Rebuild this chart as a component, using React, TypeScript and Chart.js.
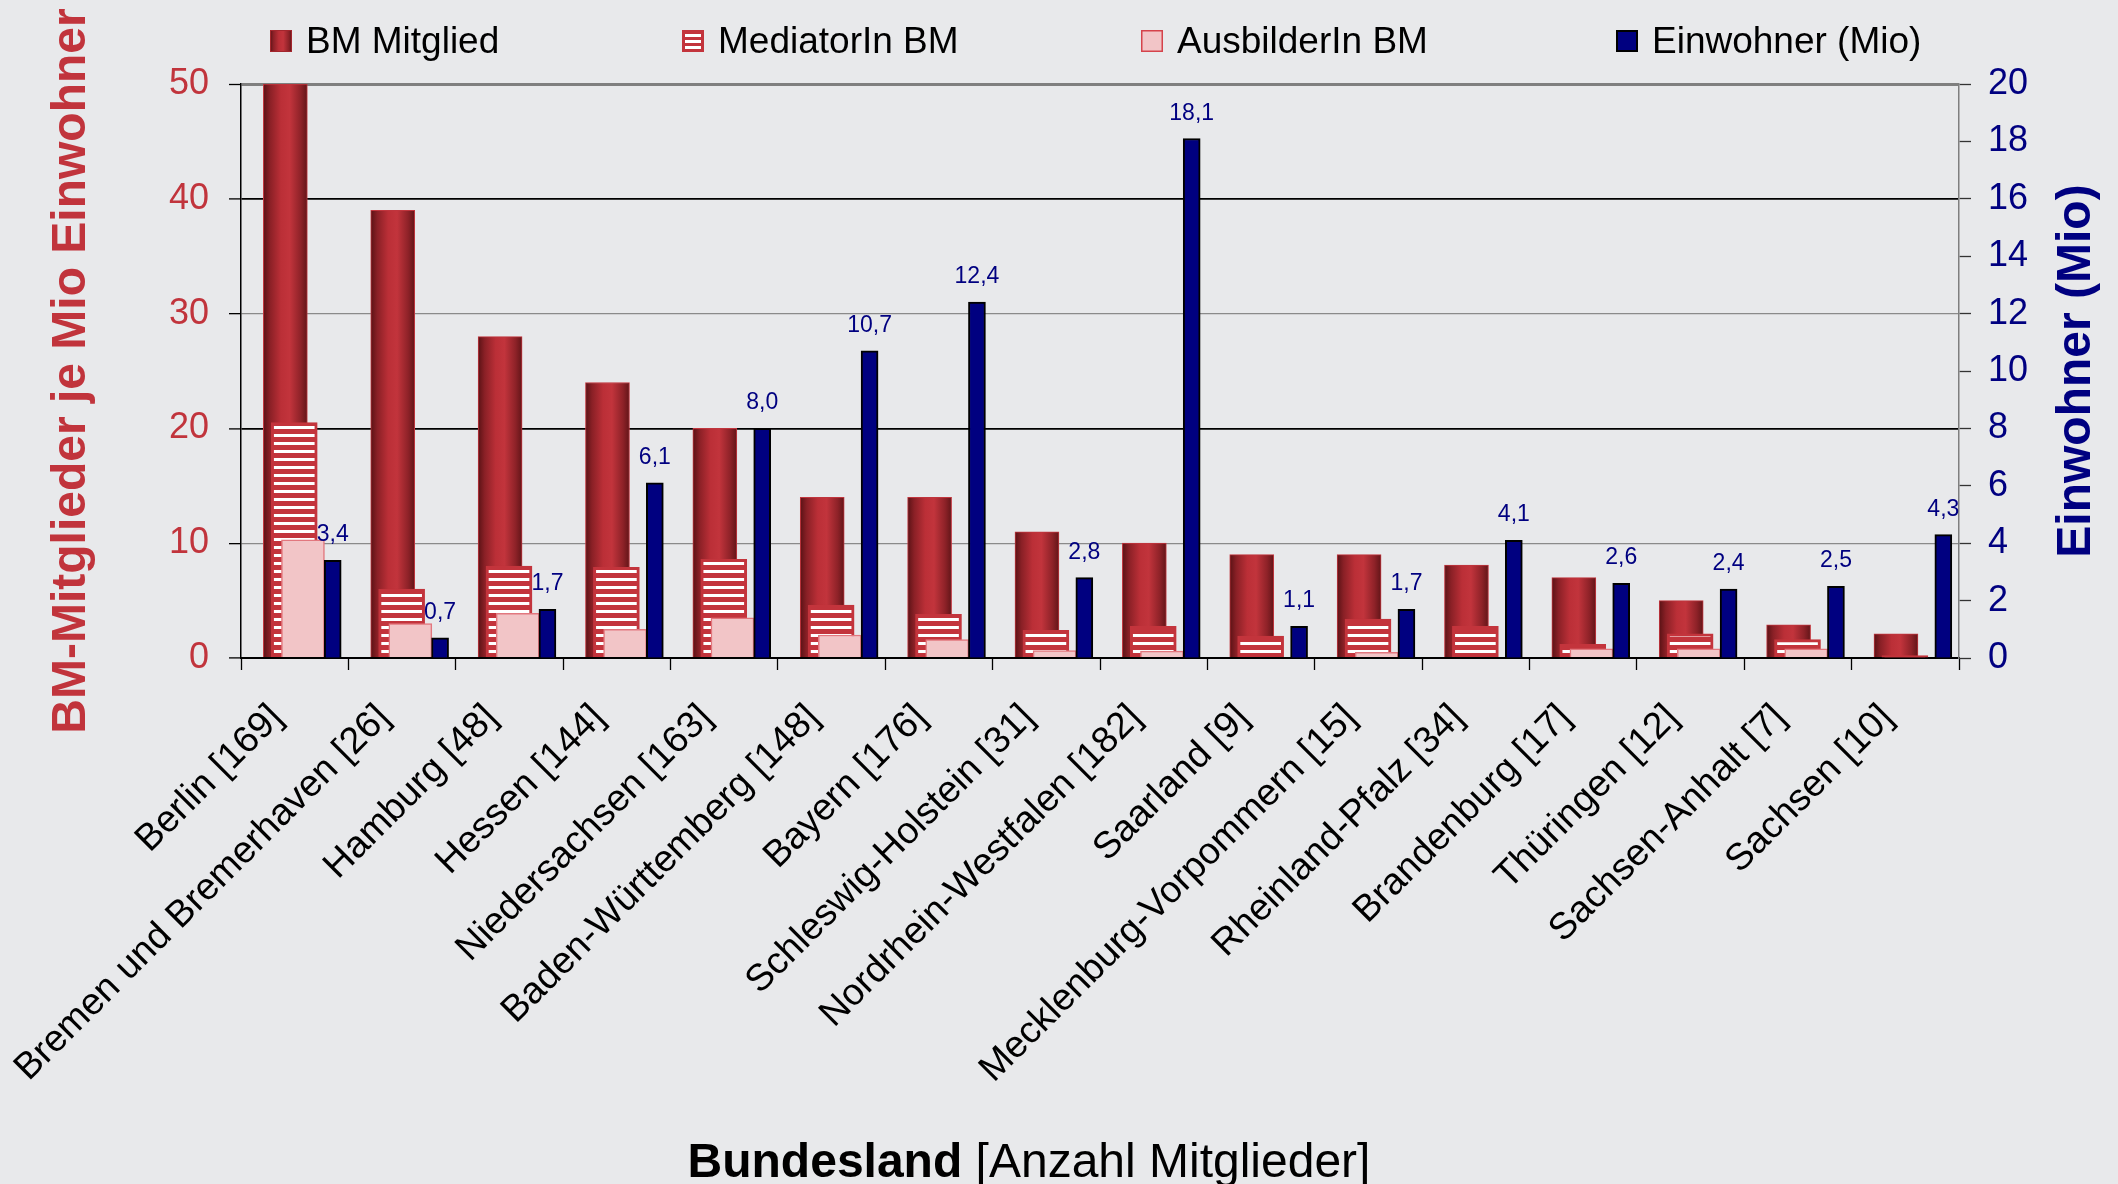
import React, { useEffect, useRef } from 'react';
import { Chart, registerables } from 'chart.js';

Chart.register(...registerables);

// ---------------- data ----------------
const categories = [
  'Berlin [169]',
  'Bremen und Bremerhaven [26]',
  'Hamburg [48]',
  'Hessen [144]',
  'Niedersachsen [163]',
  'Baden-Württemberg [148]',
  'Bayern [176]',
  'Schleswig-Holstein [31]',
  'Nordrhein-Westfalen [182]',
  'Saarland [9]',
  'Mecklenburg-Vorpommern [15]',
  'Rheinland-Pfalz [34]',
  'Brandenburg [17]',
  'Thüringen [12]',
  'Sachsen-Anhalt [7]',
  'Sachsen [10]',
];

const bmMitglied = [50, 39, 28, 24, 20, 14, 14, 11, 10, 9, 9, 8.1, 7, 5, 2.9, 2.1];
const mediatorIn = [20.5, 6, 8, 7.9, 8.6, 4.6, 3.8, 2.4, 2.75, 1.9, 3.4, 2.75, 1.2, 2.1, 1.6, 0.2];
const ausbilderIn = [10.3, 3, 3.9, 2.5, 3.5, 2, 1.6, 0.65, 0.6, 0, 0.5, 0, 0.8, 0.8, 0.8, 0];
const einwohner = [3.4, 0.7, 1.7, 6.1, 8.0, 10.7, 12.4, 2.8, 18.1, 1.1, 1.7, 4.1, 2.6, 2.4, 2.5, 4.3];

const seriesNames = ['BM Mitglied', 'MediatorIn BM', 'AusbilderIn BM', 'Einwohner (Mio)'];
const leftAxisTitle = 'BM-Mitglieder je Mio Einwohner';
const rightAxisTitle = 'Einwohner (Mio)';
const xTitleBold = 'Bundesland';
const xTitleRest = ' [Anzahl Mitglieder]';

const leftMax = 50;
const leftStep = 10;
const rightMax = 20;
const rightStep = 2;

// ---------------- layout / style ----------------
const W = 2118;
const H = 1184;
const FONT = '"Liberation Sans", Arial, Helvetica, sans-serif';
const BG = '#e8e9eb';
const RED = '#c1343c';
const NAVY = '#000080';

const AREA_TOP = 84;
const AREA_BOTTOM = 658;
const AREA_LEFT = 241;
const AREA_RIGHT = 1959;

// horizontal placement of each series inside its category (category units)
const SHIFT = { bm: -0.087, med: -0.004, aus: 0.077, ein: 0.354 };
const THICK = { bm: 44, med: 46, aus: 43, ein: 17 };

const toXY = (arr: number[], shift: number) => arr.map((v, i) => ({ x: i + shift, y: v }));
const fmt = (v: number) => v.toFixed(1).replace('.', ',');

function bmGradient(ctx: CanvasRenderingContext2D, x0: number, x1: number) {
  const g = ctx.createLinearGradient(x0, 0, x1, 0);
  g.addColorStop(0, '#5a1215');
  g.addColorStop(0.15, '#8a2026');
  g.addColorStop(0.4, '#bb2f37');
  g.addColorStop(0.6, '#c2343c');
  g.addColorStop(0.85, '#8e2228');
  g.addColorStop(1, '#621518');
  return g;
}

function stripePattern(ctx: CanvasRenderingContext2D) {
  const c = document.createElement('canvas');
  c.width = 8;
  c.height = 8;
  const g = c.getContext('2d') as CanvasRenderingContext2D;
  g.fillStyle = '#c3343c';
  g.fillRect(0, 0, 8, 8);
  g.fillStyle = '#ffffff';
  g.fillRect(0, 2, 8, 3);
  return ctx.createPattern(c, 'repeat') as CanvasPattern;
}

const decorPlugin = {
  id: 'decor',
  beforeDraw(chart: any) {
    const ctx = chart.ctx;
    ctx.save();
    ctx.fillStyle = BG;
    ctx.fillRect(0, 0, chart.width, chart.height);
    ctx.restore();
  },
  afterDatasetsDraw(chart: any) {
    const ctx: CanvasRenderingContext2D = chart.ctx;
    const area = chart.chartArea;
    const meta = chart.getDatasetMeta(3);
    ctx.save();
    ctx.beginPath();
    ctx.rect(area.left, 0, area.right - area.left, area.bottom);
    ctx.clip();
    ctx.font = `23px ${FONT}`;
    ctx.fillStyle = NAVY;
    ctx.textAlign = 'center';
    ctx.textBaseline = 'alphabetic';
    meta.data.forEach((el: any, i: number) => {
      ctx.fillText(fmt(einwohner[i]), el.x, el.y - 19);
    });
    ctx.restore();
  },
  afterDraw(chart: any) {
    const ctx: CanvasRenderingContext2D = chart.ctx;
    const area = chart.chartArea;
    const midY = (area.top + area.bottom) / 2;

    // left axis title
    ctx.save();
    ctx.translate(72, midY);
    ctx.rotate(-Math.PI / 2);
    ctx.font = `bold 48px ${FONT}`;
    ctx.fillStyle = RED;
    ctx.textAlign = 'center';
    ctx.textBaseline = 'middle';
    ctx.fillText(leftAxisTitle, 0, 0);
    ctx.restore();

    // right axis title
    ctx.save();
    ctx.translate(2077, midY);
    ctx.rotate(-Math.PI / 2);
    ctx.font = `bold 48px ${FONT}`;
    ctx.fillStyle = NAVY;
    ctx.textAlign = 'center';
    ctx.textBaseline = 'middle';
    ctx.fillText(rightAxisTitle, 0, 0);
    ctx.restore();

    // x axis title (mixed weights)
    ctx.save();
    ctx.fillStyle = '#000';
    ctx.textBaseline = 'alphabetic';
    ctx.textAlign = 'left';
    ctx.font = `bold 48px ${FONT}`;
    const bw = ctx.measureText(xTitleBold).width;
    ctx.font = `48px ${FONT}`;
    const rw = ctx.measureText(xTitleRest).width;
    const startX = 1029 - (bw + rw) / 2;
    ctx.font = `bold 48px ${FONT}`;
    ctx.fillText(xTitleBold, startX, 1177);
    ctx.font = `48px ${FONT}`;
    ctx.fillText(xTitleRest, startX + bw, 1177);
    ctx.restore();

    // legend
    const boxX = [270, 682, 1141, 1616];
    const by = 30;
    const bs = 22;
    ctx.save();
    boxX.forEach((x, k) => {
      if (k === 0) {
        ctx.fillStyle = bmGradient(ctx, x, x + bs);
        ctx.fillRect(x, by, bs, bs);
        ctx.strokeStyle = '#a3262d';
        ctx.lineWidth = 1;
        ctx.strokeRect(x + 0.5, by + 0.5, bs - 1, bs - 1);
      } else if (k === 1) {
        ctx.fillStyle = '#c3343c';
        ctx.fillRect(x, by, bs, bs);
        ctx.fillStyle = '#fff';
        ctx.fillRect(x + 3, by + 4, bs - 6, 3);
        ctx.fillRect(x + 3, by + 10, bs - 6, 3);
        ctx.fillRect(x + 3, by + 16, bs - 6, 3);
      } else if (k === 2) {
        ctx.fillStyle = '#f2c5c7';
        ctx.fillRect(x, by, bs, bs);
        ctx.strokeStyle = '#d5434b';
        ctx.lineWidth = 1.5;
        ctx.strokeRect(x + 0.75, by + 0.75, bs - 1.5, bs - 1.5);
      } else {
        ctx.fillStyle = NAVY;
        ctx.fillRect(x, by, bs, bs);
        ctx.strokeStyle = '#000';
        ctx.lineWidth = 2;
        ctx.strokeRect(x + 1, by + 1, bs - 2, bs - 2);
      }
      ctx.fillStyle = '#000';
      ctx.font = `37px ${FONT}`;
      ctx.textAlign = 'left';
      ctx.textBaseline = 'alphabetic';
      ctx.fillText(seriesNames[k], x + 36, 53);
    });
    ctx.restore();
  },
};

export default function App() {
  const ref = useRef<HTMLCanvasElement | null>(null);

  useEffect(() => {
    document.body.style.margin = '0';
    document.body.style.background = BG;
    document.body.style.overflow = 'hidden';
    const canvas = ref.current as HTMLCanvasElement;
    const ctx2d = canvas.getContext('2d') as CanvasRenderingContext2D;
    const stripes = stripePattern(ctx2d);

    const leftGridColor = (c: any) => {
      const v = c.tick ? c.tick.value : 0;
      if (v === leftMax) return '#7f7f7f';
      if (v === 0 || v === 20 || v === 40) return '#000000';
      return '#8a8a8a';
    };
    const leftGridWidth = (c: any) => {
      const v = c.tick ? c.tick.value : 0;
      if (v === leftMax) return 3;
      if (v === 0 || v === 20 || v === 40) return 1.8;
      return 1.3;
    };

    const chart = new Chart(canvas, {
      type: 'bar',
      data: {
        labels: categories,
        datasets: [
          {
            label: seriesNames[0],
            data: toXY(bmMitglied, SHIFT.bm) as any,
            xAxisID: 'xb',
            yAxisID: 'y',
            grouped: false,
            order: 4,
            barThickness: THICK.bm,
            backgroundColor: (c: any) => {
              const sc = c.chart.scales && c.chart.scales.xb;
              if (c.type !== 'data' || !sc) return '#b02a32';
              const cx = sc.getPixelForValue(c.dataIndex + SHIFT.bm);
              if (!isFinite(cx)) return '#b02a32';
              return bmGradient(c.chart.ctx, cx - THICK.bm / 2, cx + THICK.bm / 2);
            },
            borderColor: '#c0353d',
            borderWidth: 1,
          },
          {
            label: seriesNames[1],
            data: toXY(mediatorIn, SHIFT.med) as any,
            xAxisID: 'xb',
            yAxisID: 'y',
            grouped: false,
            order: 3,
            barThickness: THICK.med,
            backgroundColor: stripes,
            borderColor: '#c3343c',
            borderWidth: 3,
          },
          {
            label: seriesNames[2],
            data: toXY(ausbilderIn, SHIFT.aus) as any,
            xAxisID: 'xb',
            yAxisID: 'y',
            grouped: false,
            order: 2,
            barThickness: THICK.aus,
            backgroundColor: '#f2c5c7',
            borderColor: '#e2777e',
            borderWidth: 1.5,
          },
          {
            label: seriesNames[3],
            data: toXY(einwohner, SHIFT.ein) as any,
            xAxisID: 'xb',
            yAxisID: 'y2',
            grouped: false,
            order: 1,
            barThickness: THICK.ein,
            backgroundColor: NAVY,
            borderColor: '#000000',
            borderWidth: 2,
          },
        ],
      },
      options: {
        responsive: false,
        animation: false,
        devicePixelRatio: 1,
        layout: { padding: { top: AREA_TOP, left: 0, right: 0, bottom: 0 } },
        plugins: {
          legend: { display: false },
          tooltip: { enabled: false },
          title: { display: false },
        },
        scales: {
          x: {
            type: 'category',
            position: 'bottom',
            offset: true,
            grid: {
              offset: true,
              drawOnChartArea: false,
              drawTicks: true,
              tickLength: 12,
              tickColor: '#000',
              tickWidth: 1.3,
            },
            border: { display: true, color: '#000', width: 2 },
            ticks: {
              autoSkip: false,
              maxRotation: 45,
              minRotation: 45,
              color: '#000',
              font: { family: FONT, size: 37.5 },
              padding: 26,
              labelOffset: -18,
            },
            afterFit: (s: any) => {
              s.height = H - AREA_BOTTOM;
            },
          },
          xb: {
            type: 'linear',
            position: 'bottom',
            display: false,
            min: -0.5,
            max: categories.length - 0.5,
            offset: false,
          },
          y: {
            type: 'linear',
            position: 'left',
            min: 0,
            max: leftMax,
            ticks: {
              stepSize: leftStep,
              color: RED,
              font: { family: FONT, size: 36 },
              padding: 20,
            },
            grid: {
              color: leftGridColor,
              lineWidth: leftGridWidth,
              tickLength: 12,
              tickColor: '#000',
              tickWidth: 1.3,
            },
            border: { display: true, color: '#000', width: 1.5 },
            afterFit: (s: any) => {
              s.width = AREA_LEFT;
            },
          },
          y2: {
            type: 'linear',
            position: 'right',
            min: 0,
            max: rightMax,
            ticks: {
              stepSize: rightStep,
              color: NAVY,
              font: { family: FONT, size: 36 },
              padding: 17,
            },
            grid: {
              drawOnChartArea: false,
              tickLength: 12,
              tickColor: '#333',
              tickWidth: 1.3,
            },
            border: { display: true, color: '#7f7f7f', width: 1.5 },
            afterFit: (s: any) => {
              s.width = W - AREA_RIGHT;
            },
          },
        },
      } as any,
      plugins: [decorPlugin],
    });

    return () => chart.destroy();
  }, []);

  return (
    <div style={{ width: W, height: H, background: BG }}>
      <canvas ref={ref} width={W} height={H} style={{ display: 'block', width: W, height: H }} />
    </div>
  );
}
